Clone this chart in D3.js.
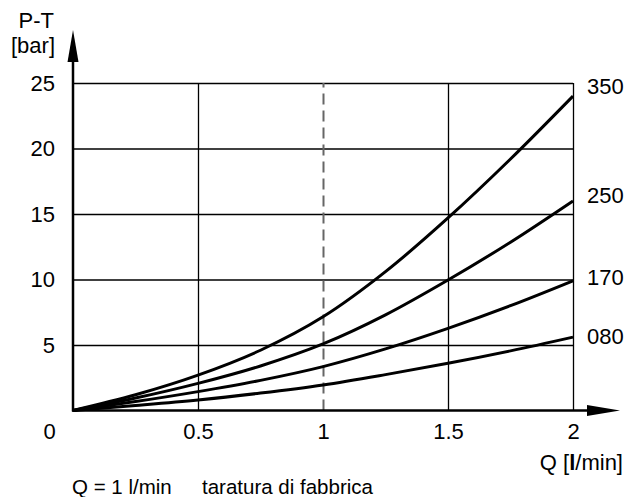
<!DOCTYPE html>
<html><head><meta charset="utf-8">
<script src="https://cdn.jsdelivr.net/npm/d3@7/dist/d3.min.js"></script>
<style>
body{margin:0;background:#fff}
svg{display:block}
text{font-family:"Liberation Sans",Arial,Helvetica,sans-serif;fill:#000}
</style>
</head><body><svg id="c" width="626" height="497"></svg>
<script>
// ---- data ----
const flow = [0, 0.25, 0.5, 0.75, 1, 1.25, 1.5, 1.75, 2];
const seriesNames = ["350", "250", "170", "080"];
const p350 = [0, 1.2, 2.7, 4.6, 7.15, 10.6, 14.7, 19.2, 24.0];
const p250 = [0, 0.95, 2.07, 3.4, 5.08, 7.3, 9.96, 12.85, 16.0];
const p170 = [0, 0.68, 1.44, 2.3, 3.35, 4.7, 6.27, 8.0, 9.9];
const p080 = [0, 0.38, 0.8, 1.33, 1.95, 2.74, 3.6, 4.55, 5.6];
const xTicks = [0, 0.5, 1, 1.5, 2];
const xTickLabels = ["0", "0.5", "1", "1.5", "2"];
const yTicks = [5, 10, 15, 20, 25];
const yTickLabels = ["5", "10", "15", "20", "25"];
const yTitle = ["P-T", "[bar]"];
const xTitleParts = ["Q [", "l", "/min]"];
const footer = ["Q = 1 l/min", "taratura di fabbrica"];
const factorySetting = 1;

// ---- drawing ----
const svg = d3.select("#c");
const x = d3.scaleLinear().domain([0, 2]).range([73, 573]);
const y = d3.scaleLinear().domain([0, 25]).range([410.5, 83]);
const FS = 22;

// horizontal grid via axis
const gy = svg.append("g").attr("transform", `translate(${x(0)},0)`)
  .call(d3.axisLeft(y).tickValues(yTicks).tickSize(-(x(2) - x(0)))
    .tickPadding(18).tickFormat((d, i) => yTickLabels[i]));
gy.select(".domain").remove();
gy.selectAll("line").attr("stroke", "#000").attr("stroke-width", 1.3);
gy.selectAll("text").attr("font-size", FS).attr("fill", "#000")
  .attr("font-family", '"Liberation Sans",Arial,sans-serif');

// vertical grid via axis
const gx = svg.append("g").attr("transform", `translate(0,${y(0)})`)
  .call(d3.axisBottom(x).tickValues(xTicks).tickSize(-(y(0) - y(25)))
    .tickPadding(14).tickFormat((d, i) => xTickLabels[i]));
gx.select(".domain").remove();
gx.selectAll(".tick line")
  .attr("stroke", d => d === factorySetting ? "#666" : "#000")
  .attr("stroke-width", d => d === factorySetting ? 2 : 1.3)
  .attr("stroke-dasharray", d => d === factorySetting ? "11,6" : null)
  .style("display", d => d === 0 ? "none" : null);
gx.selectAll(".tick text").attr("font-size", FS).attr("fill", "#000")
  .attr("font-family", '"Liberation Sans",Arial,sans-serif')
  .attr("dy", "0.68em")
  .attr("x", d => d === 0 ? -24 : 0);

// curves
const allSeries = [p350, p250, p170, p080];
const line = d3.line().x((d, i) => x(flow[i])).y(d => y(d)).curve(d3.curveMonotoneX);
svg.append("g").selectAll("path").data(allSeries).join("path")
  .attr("d", line).attr("fill", "none").attr("stroke", "#000")
  .attr("stroke-width", 3).attr("stroke-linejoin", "round");

// series labels
const labelShift = [-10, -6, -4, -1];
svg.append("g").selectAll("text").data(allSeries).join("text")
  .attr("x", x(2) + 14)
  .attr("y", (d, i) => y(d[d.length - 1]) + labelShift[i])
  .attr("dy", "0.35em")
  .attr("font-size", FS)
  .text((d, i) => seriesNames[i]);

// axes with arrows
svg.append("line").attr("x1", x(0)).attr("x2", x(0)).attr("y1", y(0) + 1).attr("y2", 60)
  .attr("stroke", "#000").attr("stroke-width", 2.5);
svg.append("path").attr("d", `M${x(0)},30 L${x(0) - 5.5},62 L${x(0) + 5.5},62 Z`).attr("fill", "#000");
svg.append("line").attr("x1", x(0) - 1).attr("x2", 590).attr("y1", y(0)).attr("y2", y(0))
  .attr("stroke", "#000").attr("stroke-width", 2.5);
svg.append("path").attr("d", `M620,${y(0)} L587,${y(0) - 5.5} L587,${y(0) + 5.5} Z`).attr("fill", "#000");

// axis titles
svg.append("text").attr("x", 54).attr("y", 28).attr("text-anchor", "end")
  .attr("font-size", FS).text(yTitle[0]);
svg.append("text").attr("x", 55).attr("y", 53).attr("text-anchor", "end")
  .attr("font-size", FS).text(yTitle[1]);
const xt = svg.append("text").attr("x", 623).attr("y", 470).attr("text-anchor", "end")
  .attr("font-size", FS);
xt.append("tspan").text(xTitleParts[0]);
xt.append("tspan").attr("font-weight", "bold").text(xTitleParts[1]);
xt.append("tspan").text(xTitleParts[2]);

// footer
svg.append("text").attr("x", 72).attr("y", 494).attr("font-size", 20.5).text(footer[0]);
svg.append("text").attr("x", 202).attr("y", 494).attr("font-size", 20.5).text(footer[1]);
</script>
</body></html>
